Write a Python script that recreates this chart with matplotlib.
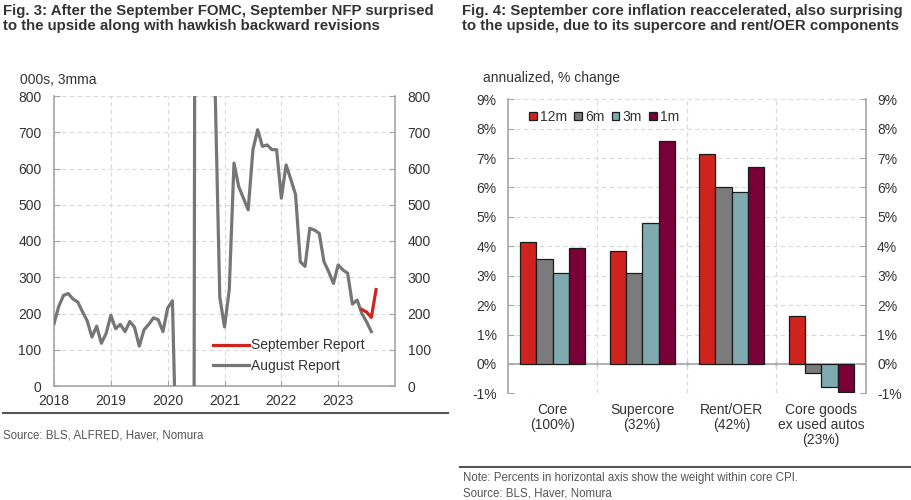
import matplotlib.pyplot as plt
import matplotlib.lines as mlines
import numpy as np

plt.rcParams['font.family'] = ['Liberation Sans', 'DejaVu Sans']

# ---- Fig. 3 data: NFP, 000s, 3mma, monthly from Jan 2018 ----
aug_report = [172, 220, 250, 255, 240, 232, 205, 180, 135, 165, 118, 145,
              195, 158, 170, 150, 178, 162, 110, 155, 170, 188, 183, 150,
              215, 235, -300, -6400, -6300, -4300, 3100, 2700, 1300, 1000, 830, 245,
              163, 265, 615, 550, 518, 486, 652, 707, 661, 665, 652, 652,
              518, 610, 570, 528, 343, 330, 435, 430, 421, 343, 315, 283,
              334, 320, 311, 226, 237, 200, 177, 150]
sep_report = [211, 204, 189, 266]
sep_start = 65  # month index of first September Report point
years = [2018, 2019, 2020, 2021, 2022, 2023]

# ---- Fig. 4 data: annualized % change ----
categories = ['Core\n(100%)', 'Supercore\n(32%)', 'Rent/OER\n(42%)',
              'Core goods\nex used autos\n(23%)']
series = ['12m', '6m', '3m', '1m']
vals_12m = [4.13, 3.83, 7.14, 1.64]
vals_6m = [3.57, 3.08, 6.03, -0.32]
vals_3m = [3.08, 4.78, 5.83, -0.77]
vals_1m = [3.93, 7.58, 6.71, -0.96]
colors = ['#D0231E', '#7B7B7B', '#7FABB0', '#7A0038']

txt = '#333333'
grid_c = '#D9D9D9'
spine_c = '#A6A6A6'
fs = 10

fig = plt.figure(figsize=(9.11, 5.0), dpi=100)

# ---------------- left chart ----------------
ax1 = fig.add_axes([0.0593, 0.228, 0.3743, 0.58])
t_aug = 2018 + np.arange(len(aug_report)) / 12
t_sep = 2018 + (sep_start + np.arange(len(sep_report))) / 12
ax1.plot(t_aug, aug_report, color='#767676', lw=2.3, label='August Report', zorder=3)
ax1.plot(t_sep, sep_report, color='#D0231E', lw=2.3, label='September Report', zorder=4)
ax1.set_xlim(2018, 2024)
ax1.set_ylim(0, 800)
ax1.set_xticks(years)
ax1.set_yticks(range(0, 801, 100))
ax1.grid(True, color=grid_c, ls=(0, (4, 3)), lw=0.8)
ax1.set_axisbelow(True)
ax1.spines['top'].set_visible(False)
for s in ['left', 'right', 'bottom']:
    ax1.spines[s].set_color(spine_c)
    ax1.spines[s].set_linewidth(1.2)
ax1.tick_params(axis='both', direction='in', length=4, color=spine_c, labelsize=fs,
                labelcolor=txt, pad=9)
ax1.tick_params(axis='x', pad=6)
ax1.tick_params(axis='y', right=True, labelright=True)
h, l = ax1.get_legend_handles_labels()
ax1.legend(h[::-1], l[::-1], loc='center left', bbox_to_anchor=(0.447, 0.105), frameon=False,
           fontsize=fs, handlelength=2.6, handletextpad=0.1, labelspacing=0.45,
           borderpad=0, labelcolor=txt)

# ---------------- right chart ----------------
ax2 = fig.add_axes([0.5576, 0.2134, 0.393, 0.588])
x = np.arange(len(categories))
w = 0.182
for i, (name, vals) in enumerate(zip(series, [vals_12m, vals_6m, vals_3m, vals_1m])):
    ax2.bar(x + (i - 1.5) * w, vals, width=w, color=colors[i], edgecolor='#1A1A1A',
            lw=0.9, label=name, zorder=3)
ax2.set_xlim(-0.5, 3.5)
ax2.set_ylim(-1, 9)
ax2.set_yticks(range(-1, 10))
ax2.yaxis.set_major_formatter(plt.FuncFormatter(lambda v, p: f'{v:.0f}%'))
ax2.set_xticks(x)
ax2.set_xticklabels(categories, fontsize=fs, color=txt, linespacing=1.08)
ax2.set_xticks([0.5, 1.5, 2.5], minor=True)
ax2.grid(True, axis='y', color=grid_c, ls=(0, (4, 3)), lw=0.8)
ax2.grid(True, axis='x', which='minor', color=grid_c, ls=(0, (4, 3)), lw=0.8)
ax2.set_axisbelow(True)
ax2.axhline(0, color=spine_c, lw=1.2, zorder=2)
ax2.spines['top'].set_visible(False)
ax2.spines['bottom'].set_visible(False)
for s in ['left', 'right']:
    ax2.spines[s].set_color(spine_c)
    ax2.spines[s].set_linewidth(1.2)
ax2.tick_params(axis='x', which='both', length=0, pad=7)
ax2.tick_params(axis='y', direction='in', length=4, color=spine_c, labelsize=fs,
                labelcolor=txt, pad=8, right=True, labelright=True)
sec = ax2.secondary_xaxis(0.1)
sec.set_xticks([0.5, 1.5, 2.5])
sec.set_xticklabels([])
sec.tick_params(direction='inout', length=6, color=spine_c, width=1)
sec.spines['bottom'].set_visible(False)
ax2.legend(loc='center left', bbox_to_anchor=(0.04, 0.941), ncol=4, frameon=False,
           fontsize=fs, handlelength=0.55, handleheight=0.55, handletextpad=0.2,
           columnspacing=0.55, borderpad=0, labelcolor=txt)

# ---------------- titles, notes, rules ----------------
fig.text(3 / 911, 1 - 4 / 500, 'Fig. 3: After the September FOMC, September NFP surprised\n'
         'to the upside along with hawkish backward revisions',
         fontsize=10.8, fontweight='bold', color=txt, va='top', linespacing=1.1)
fig.text(462 / 911, 1 - 4 / 500, 'Fig. 4: September core inflation reaccelerated, also surprising\n'
         'to the upside, due to its supercore and rent/OER components',
         fontsize=10.8, fontweight='bold', color=txt, va='top', linespacing=1.1)
fig.text(20 / 911, 1 - 80 / 500, '000s, 3mma', fontsize=fs, color=txt, va='center')
fig.text(483 / 911, 1 - 78 / 500, 'annualized, % change', fontsize=fs, color=txt, va='center')

fig.add_artist(mlines.Line2D([3 / 911, 448 / 911], [1 - 413 / 500] * 2, color='#555555', lw=1.5))
fig.add_artist(mlines.Line2D([460 / 911, 910 / 911], [1 - 467 / 500] * 2, color='#555555', lw=1.5))
fig.text(3 / 911, 1 - 435 / 500, 'Source: BLS, ALFRED, Haver, Nomura', fontsize=8.3,
         color='#555555', va='center')
fig.text(463 / 911, 1 - 478 / 500, 'Note: Percents in horizontal axis show the weight within core CPI.',
         fontsize=8.3, color='#555555', va='center')
fig.text(463 / 911, 1 - 493 / 500, 'Source: BLS, Haver, Nomura', fontsize=8.3,
         color='#555555', va='center')

fig.savefig('out.png', dpi=100)
